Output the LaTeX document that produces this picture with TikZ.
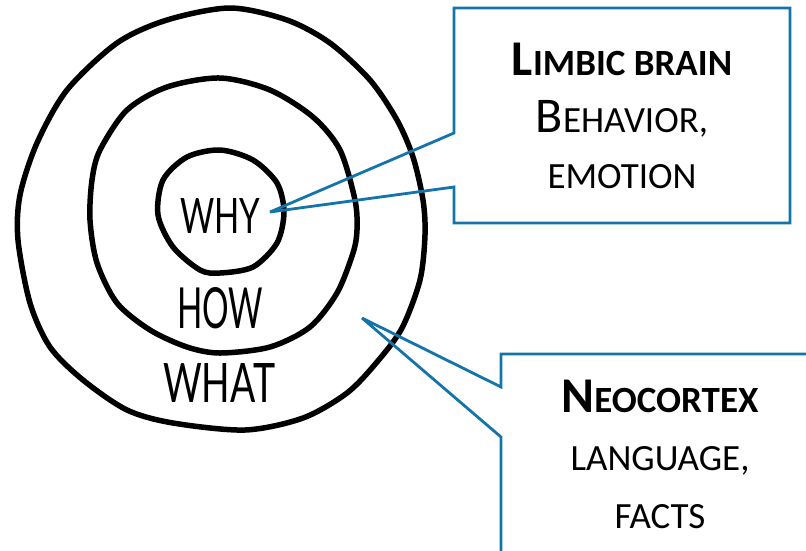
\documentclass[tikz,border=0pt]{standalone}
\usepackage{fontspec}
\usepackage{graphicx}
\setmainfont{Carlito}
\newfontfamily\handfont{Lato}
\definecolor{callblue}{RGB}{20,116,170}
% full-size capital and small-capital sizes for the callout text
\newcommand{\capsz}[1]{{\fontsize{50}{50}\selectfont #1}}
\newcommand{\scsz}[1]{{\fontsize{37}{37}\selectfont #1}}

\begin{document}
\begin{tikzpicture}[x=1pt,y=-1pt,
  ring/.style={line width=5.5pt, line join=round},
  callout/.style={draw=callblue, line width=2.8pt, miter limit=2},
  boxtext/.style={inner sep=0pt, anchor=base},
  hand/.style={inner sep=0pt, anchor=base west, font=\handfont}]
\useasboundingbox (0,0) rectangle (806,550);

% three hand-drawn rings
\draw[ring] plot[smooth cycle] coordinates {
  (230,8) (287,20) (330,43) (370,80) (397,120) (413,157) (423,200)
  (425,235) (420,280) (402,328) (377,362) (347,393) (303,418)
  (245,430) (173,423) (127,410) (83,380) (50,347) (30,303) (18,240)
  (20,195) (37,143) (67,90) (117,43) (167,20)};
\draw[ring] plot[smooth cycle] coordinates {
  (220,78) (270,90) (313,117) (340,150) (355,200) (357,230) (353,253)
  (337,293) (310,327) (270,347) (220,353) (187,347) (150,330)
  (117,303) (97,263) (90,220) (92,180) (100,150) (127,110) (167,87)};
\draw[ring] plot[smooth cycle] coordinates {
  (220,150) (253,160) (277,183) (284,212) (277,243) (253,267)
  (220,273) (200,270) (173,247) (158,215) (163,180) (187,157)};

% ring labels
\node[hand] (why)  at (180,233) {\resizebox{80pt}{35pt}{WHY}};
\node[hand] (how)  at (177,328) {\resizebox{86pt}{41pt}{HOW}};
\node[hand] (what) at (163,402) {\resizebox{112pt}{39pt}{WHAT}};

% callout pointing into the centre ring
\coordinate (t1) at (270,212);
\draw[callout] (454,187) -- (t1) -- (454,133) -- (454,8) -- (790,8)
  -- (790,223) -- (454,223) -- cycle;
\node[boxtext] (lb1) at (622,75)  {\bfseries\capsz{L}\scsz{IMBIC BRAIN}};
\node[boxtext] (lb2) at (622,132) {\capsz{B}\scsz{EHAVIOR,}};
\node[boxtext] (lb3) at (622,188) {\scsz{EMOTION}};

% callout pointing into the outer ring
\coordinate (t2) at (362,318);
\draw[callout] (501,437) -- (t2) -- (501,387) -- (501,354) -- (830,354)
  -- (830,700) -- (501,700) -- cycle;
\node[boxtext] (nc1) at (660,412) {\bfseries\capsz{N}\scsz{EOCORTEX}};
\node[boxtext] (nc2) at (660,470) {\scsz{LANGUAGE,}};
\node[boxtext] (nc3) at (660,528) {\scsz{FACTS}};
\end{tikzpicture}
\end{document}
